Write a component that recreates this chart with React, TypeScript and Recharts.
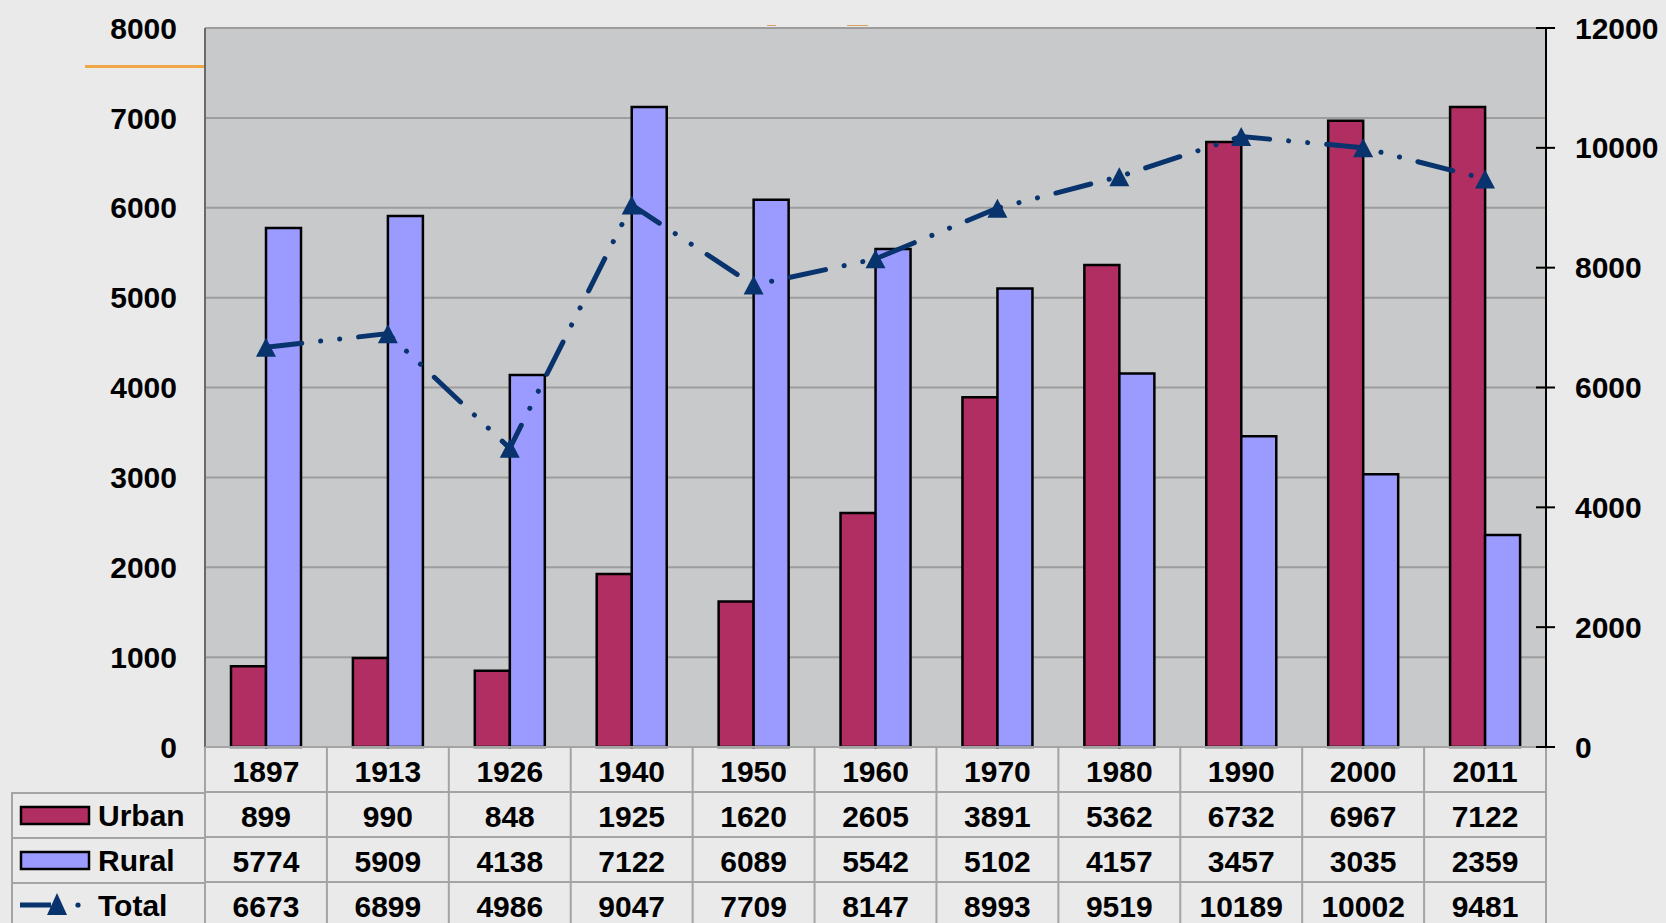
import { Bar, CartesianGrid, ComposedChart, Legend, Line, XAxis, YAxis } from 'recharts'

const years = ['1897', '1913', '1926', '1940', '1950', '1960', '1970', '1980', '1990', '2000', '2011']
const urban = [899, 990, 848, 1925, 1620, 2605, 3891, 5362, 6732, 6967, 7122]
const rural = [5774, 5909, 4138, 7122, 6089, 5542, 5102, 4157, 3457, 3035, 2359]
const total = [6673, 6899, 4986, 9047, 7709, 8147, 8993, 9519, 10189, 10002, 9481]
const seriesNames = ['Urban', 'Rural', 'Total']
const leftTicks = [0, 1000, 2000, 3000, 4000, 5000, 6000, 7000, 8000]
const rightTicks = [0, 2000, 4000, 6000, 8000, 10000, 12000]

const data = years.map((year, i) => ({ year, Urban: urban[i], Rural: rural[i], Total: total[i] }))

const urbanColor = '#b12e63'
const ruralColor = '#9b9bff'
const totalColor = '#08336d'
const tableLine = '#a4a4a4'
const ROW = 45
const font = { fontSize: 30, fontWeight: 700, fill: '#000' }

function triangle(cx: number, cy: number, w: number, h: number) {
    return `M${cx},${cy - h / 2} L${cx + w / 2},${cy + h / 2} L${cx - w / 2},${cy + h / 2} Z`
}

// one table column per category, drawn under the plot
function TableColumn(props: any) {
    const { x, y, payload } = props
    const i = years.indexOf(String(payload.value))
    const half = payload.offset || 61
    const cells = [payload.value, urban[i], rural[i], total[i]]
    return (
        <g>
            {i === 0 && <line x1={x - half} x2={x - half} y1={y} y2={y + ROW * 4} stroke={tableLine} strokeWidth={2} />}
            <line x1={x + half} x2={x + half} y1={y} y2={y + ROW * 4} stroke={tableLine} strokeWidth={2} />
            {[0, 1, 2, 3].map((r) => (
                <line key={r} x1={x - half} x2={x + half} y1={y + r * ROW} y2={y + r * ROW} stroke={tableLine} strokeWidth={2} />
            ))}
            {cells.map((v, r) => (
                <text key={r} x={x} y={y + 24 + r * ROW} textAnchor="middle" dominantBaseline="central" {...font}>
                    {v}
                </text>
            ))}
        </g>
    )
}

function RightTick(props: any) {
    const { x, y, payload } = props
    return (
        <g>
            <line x1={x - 39} x2={x - 20} y1={y} y2={y} stroke="#000" strokeWidth={2} />
            <text x={x} y={y} textAnchor="start" dominantBaseline="central" {...font}>
                {payload.value}
            </text>
        </g>
    )
}

function TableLegend(props: any) {
    const items = [...(props.payload || [])].sort(
        (a: any, b: any) => seriesNames.indexOf(a.value) - seriesNames.indexOf(b.value)
    )
    return (
        <svg width={200} height={140} style={{ display: 'block', overflow: 'visible' }}>
            <line x1={1} x2={1} y1={0} y2={140} stroke={tableLine} strokeWidth={2} />
            {[0, 1, 2].map((r) => (
                <line key={r} x1={0} x2={194} y1={1 + r * ROW} y2={1 + r * ROW} stroke={tableLine} strokeWidth={2} />
            ))}
            {items.map((item: any, r: number) => {
                const cy = 23 + r * ROW
                return (
                    <g key={item.value}>
                        {item.type === 'triangle' ? (
                            <g>
                                <line x1={9} x2={40} y1={cy} y2={cy} stroke={item.color} strokeWidth={5} />
                                <path d={triangle(46, cy - 1, 20, 22)} fill={item.color} />
                                <circle cx={67} cy={cy} r={2.6} fill={item.color} />
                            </g>
                        ) : (
                            <rect x={10} y={cy - 8} width={68} height={17} fill={item.color} stroke="#000" strokeWidth={2.5} />
                        )}
                        <text x={87} y={cy} dominantBaseline="central" {...font}>
                            {item.value}
                        </text>
                    </g>
                )
            })}
        </svg>
    )
}

export default function App() {
    return (
        <div
            style={{
                position: 'absolute',
                left: 0,
                top: 0,
                width: 1666,
                height: 923,
                overflow: 'hidden',
                background: '#eaeaea',
                fontFamily: '"Liberation Sans", Arial, sans-serif',
            }}
        >
            <div style={{ position: 'absolute', left: 85, top: 65, width: 120, height: 3, background: '#f0a847' }} />
            <div style={{ position: 'absolute', left: 767, top: 25, width: 9, height: 1, background: '#d9a25a' }} />
            <div style={{ position: 'absolute', left: 847, top: 25, width: 21, height: 1, background: '#d9a25a' }} />
            <ComposedChart width={1666} height={923} data={data} margin={{ top: 28, right: 0, bottom: 0, left: 0 }} barGap={0}>
                <CartesianGrid yAxisId="left" vertical={false} stroke="#9d9d9d" strokeWidth={2} fill="#c8c9cb" fillOpacity={1} />
                <XAxis dataKey="year" height={176} axisLine={false} tickLine={false} tickSize={0} tickMargin={0} interval={0} tick={<TableColumn />} />
                <YAxis
                    yAxisId="left"
                    width={205}
                    domain={[0, 8000]}
                    ticks={leftTicks}
                    interval={0}
                    axisLine={{ stroke: '#6a6a6a', strokeWidth: 2 }}
                    tickLine={false}
                    tickMargin={22}
                    tick={font}
                />
                <YAxis
                    yAxisId="right"
                    orientation="right"
                    width={120}
                    domain={[0, 12000]}
                    ticks={rightTicks}
                    interval={0}
                    axisLine={{ stroke: '#000', strokeWidth: 2 }}
                    tickLine={false}
                    tickSize={9}
                    tickMargin={20}
                    tick={<RightTick />}
                />
                <Legend
                    layout="vertical"
                    align="center"
                    verticalAlign="middle"
                    wrapperStyle={{ position: 'absolute', left: 11, top: 792, width: 200, height: 140 }}
                    content={<TableLegend />}
                />
                <Bar yAxisId="left" dataKey="Urban" barSize={35} fill={urbanColor} stroke="#000" strokeWidth={2.5} legendType="rect" isAnimationActive={false} />
                <Bar yAxisId="left" dataKey="Rural" barSize={35} fill={ruralColor} stroke="#000" strokeWidth={2.5} legendType="rect" isAnimationActive={false} />
                <Line
                    yAxisId="right"
                    dataKey="Total"
                    type="linear"
                    stroke={totalColor}
                    strokeWidth={5}
                    strokeDasharray="36 19 0.1 19 0.1 19"
                    strokeLinecap="round"
                    legendType="triangle"
                    activeDot={false}
                    dot={(p: any) => <path key={`t-${p.index}`} d={triangle(p.cx, p.cy, 20, 19)} fill={totalColor} />}
                    isAnimationActive={false}
                />
            </ComposedChart>
        </div>
    )
}
